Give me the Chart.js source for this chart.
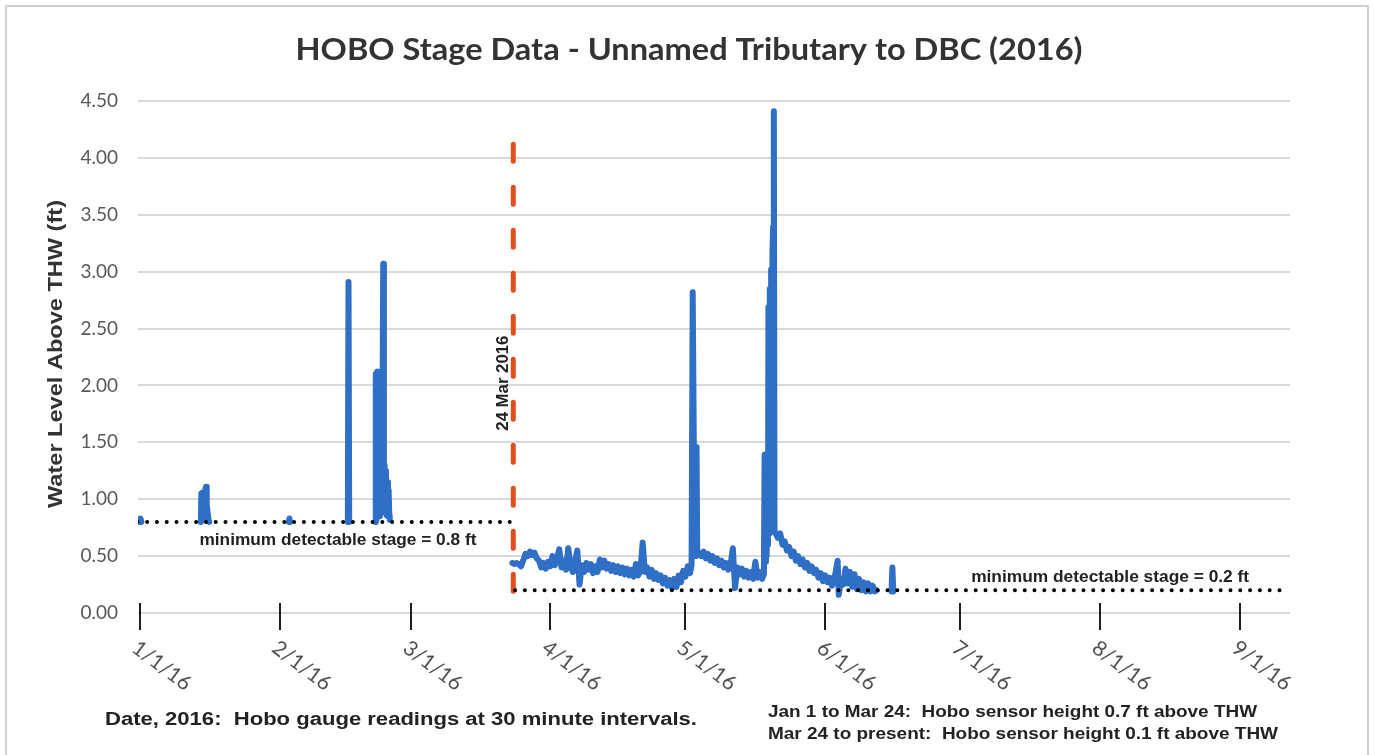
<!DOCTYPE html>
<html>
<head>
<meta charset="utf-8">
<title>HOBO Stage Data - Unnamed Tributary to DBC (2016)</title>
<script src="https://cdn.jsdelivr.net/npm/chart.js@4/dist/chart.umd.min.js"></script>
<style>
  html, body { margin: 0; padding: 0; background: #fff; overflow: hidden; }
  #wrap { position: relative; width: 1374px; height: 755px; }
</style>
</head>
<body>
<div id="wrap"><canvas id="stage" width="1374" height="755"></canvas></div>
<script>
// ---- axis content -------------------------------------------------------
// x values are days since 1 Jan 2016
const monthStartDays = [0, 31, 60, 91, 121, 152, 182, 213, 244];
const monthLabels = ['1/1/16', '2/1/16', '3/1/16', '4/1/16', '5/1/16', '6/1/16', '7/1/16', '8/1/16', '9/1/16'];
const yTickStep = 0.5;

// ---- stage readings [day, ft]; null = below detection, no line ----------
// sensor at 0.7 ft above THW (only readings above 0.8 ft register)
const earlyReadings = [
  [-0.1, 0.80], [0.1, 0.83], [0.3, 0.80], [0.35, null],
  [13.5, 0.80], [13.6, 1.05], [13.75, 0.82], [13.9, 1.06], [14.05, 0.85], [14.2, 1.04], [14.35, 0.88],
  [14.5, 1.09], [14.65, 1.11], [14.8, 0.95], [15.0, 0.88], [15.2, 0.82], [15.35, 0.80], [15.4, null],
  [33.0, 0.80], [33.15, 0.83], [33.3, 0.80], [33.35, null],
  [46.1, 0.80], [46.25, 2.91], [46.4, 0.80], [46.45, null],
  [52.2, 0.80], [52.3, 2.10], [52.45, 0.82], [52.6, 2.12], [52.75, 0.85], [52.9, 2.12], [53.05, 0.85],
  [53.2, 2.10], [53.35, 0.88], [53.5, 2.05], [53.65, 0.90], [53.8, 1.90], [53.95, 3.07], [54.1, 0.90],
  [54.25, 1.30], [54.4, 0.88], [54.55, 1.25], [54.7, 0.86], [54.85, 1.15], [55.0, 0.85], [55.15, 1.08],
  [55.3, 0.85], [55.4, 0.82], [55.5, null]
];

// sensor lowered to 0.1 ft above THW on 24 Mar
const lateReadings = [
  [82.6, 0.44], [83.0, 0.43], [83.5, 0.44], [84.0, 0.43], [84.5, 0.41], [85.0, 0.46], [85.5, 0.52],
  [86.0, 0.50], [86.5, 0.54], [87.0, 0.51], [87.5, 0.53], [88.0, 0.48], [88.5, 0.46], [89.0, 0.40],
  [89.5, 0.44], [90.0, 0.39], [90.5, 0.45], [91.0, 0.41], [91.5, 0.50], [92.0, 0.42], [92.5, 0.48],
  [93.0, 0.56], [93.5, 0.40], [94.0, 0.46], [94.5, 0.38], [95.0, 0.57], [95.5, 0.42], [96.0, 0.36],
  [96.5, 0.45], [97.0, 0.55], [97.5, 0.25], [98.0, 0.42], [98.5, 0.36], [99.0, 0.44], [99.5, 0.38],
  [100.0, 0.43], [100.5, 0.35], [101.0, 0.41], [101.5, 0.36], [102.0, 0.47], [102.5, 0.40], [103.0, 0.46],
  [103.5, 0.39], [104.0, 0.43], [104.5, 0.37], [105.0, 0.42], [105.5, 0.36], [106.0, 0.41], [106.5, 0.35],
  [107.0, 0.40], [107.5, 0.34], [108.0, 0.39], [108.5, 0.33], [109.0, 0.38], [109.5, 0.32], [110.0, 0.43],
  [110.5, 0.33], [111.0, 0.37], [111.5, 0.62], [112.0, 0.36], [112.5, 0.40], [113.0, 0.32], [113.5, 0.38],
  [114.0, 0.30], [114.5, 0.35], [115.0, 0.29], [115.5, 0.33], [116.0, 0.26], [116.5, 0.31], [117.0, 0.24],
  [117.5, 0.29], [118.0, 0.22], [118.5, 0.30], [119.0, 0.23], [119.5, 0.33], [120.0, 0.27], [120.5, 0.37],
  [121.0, 0.32], [121.5, 0.41], [122.0, 0.35], [122.35, 0.42], [122.6, 2.82], [122.85, 1.46], [123.0, 0.50],
  [123.15, 1.46], [123.3, 0.50], [123.45, 1.46], [123.6, 0.55], [124.0, 0.52], [124.5, 0.50], [125.0, 0.54],
  [125.5, 0.48], [126.0, 0.52], [126.5, 0.46], [127.0, 0.50], [127.5, 0.44], [128.0, 0.48], [128.5, 0.42],
  [129.0, 0.46], [129.5, 0.40], [130.0, 0.44], [130.5, 0.38], [131.0, 0.42], [131.5, 0.57], [132.0, 0.22],
  [132.5, 0.40], [133.0, 0.34], [133.5, 0.39], [134.0, 0.32], [134.5, 0.37], [135.0, 0.31], [135.5, 0.36],
  [136.0, 0.30], [136.5, 0.45], [137.0, 0.31], [137.5, 0.36], [138.0, 0.30], [138.4, 0.34], [138.55, 1.39],
  [138.7, 0.45], [138.85, 1.39], [139.0, 0.50], [139.15, 1.39], [139.3, 0.60], [139.4, 2.69], [139.55, 0.70],
  [139.7, 2.85], [139.85, 0.72], [140.0, 3.02], [140.15, 0.75], [140.3, 3.19], [140.45, 3.40], [140.6, 4.41],
  [140.75, 0.72], [141.0, 0.70], [141.5, 0.66], [142.0, 0.70], [142.5, 0.60], [143.0, 0.63], [143.5, 0.55],
  [144.0, 0.58], [144.5, 0.50], [145.0, 0.54], [145.5, 0.46], [146.0, 0.50], [146.5, 0.43], [147.0, 0.47],
  [147.5, 0.40], [148.0, 0.44], [148.5, 0.37], [149.0, 0.41], [149.5, 0.35], [150.0, 0.38], [150.5, 0.31],
  [151.0, 0.35], [151.5, 0.28], [152.0, 0.33], [152.5, 0.27], [153.0, 0.31], [153.5, 0.24], [154.0, 0.29],
  [154.75, 0.46], [155.0, 0.16], [155.5, 0.30], [156.0, 0.25], [156.5, 0.39], [157.0, 0.26], [157.5, 0.36],
  [158.0, 0.23], [158.5, 0.34], [159.0, 0.21], [159.5, 0.30], [160.0, 0.20], [160.5, 0.27], [161.0, 0.19],
  [161.5, 0.26], [162.0, 0.19], [162.5, 0.24], [163.0, 0.19], [163.4, 0.20], [163.5, null],
  [166.7, 0.19], [166.9, 0.40], [167.1, 0.19]
];

// minimum detectable stage: [from day, to day, ft]
const detectionFloors = [
  [-0.6, 82.2, 0.8],
  [83.2, 254.6, 0.2]
];

// sensor relocation marker: [day, top ft, bottom ft]
const sensorMove = [82.8, 4.12, 0.14];

const titleText = 'HOBO Stage Data - Unnamed Tributary to DBC (2016)';
const yTitleText = 'Water Level Above THW (ft)';
const moveLabel = '24 Mar 2016';
const floorLabels = ['minimum detectable stage = 0.8 ft', 'minimum detectable stage = 0.2 ft'];
const footLeft = 'Date, 2016:  Hobo gauge readings at 30 minute intervals.';
const footRight = [
  'Jan 1 to Mar 24:  Hobo sensor height 0.7 ft above THW',
  'Mar 24 to present:  Hobo sensor height 0.1 ft above THW'
];

// ---- helpers --------------------------------------------------------------
const toPoints = rows => rows.map(([d, ft]) => ({ x: d, y: ft }));

const BLUE = '#2f6fc6';
const RED = '#e04f1d';
const SANS = '"Liberation Sans", Arial, sans-serif';
const HUMAN = 'Lato, "Open Sans", sans-serif';

// draw text squeezed or stretched horizontally to a set run length
function fitText(ctx, text, x, y, runWidth, align) {
  const w = ctx.measureText(text).width;
  const s = runWidth / w;
  ctx.save();
  ctx.translate(x, y);
  ctx.scale(s, 1);
  ctx.textAlign = align;
  ctx.fillText(text, 0, 0);
  ctx.restore();
}

// frame, titles, month ticks and notes
const decorations = {
  id: 'decorations',
  beforeDraw(chart) {
    const { ctx, width, height } = chart;
    ctx.save();
    ctx.fillStyle = '#ffffff';
    ctx.fillRect(0, 0, width, height);
    ctx.strokeStyle = '#cfcfcf';
    ctx.lineWidth = 2;
    ctx.strokeRect(6, 6, width - 12, height + 20);
    ctx.restore();
  },
  afterDraw(chart) {
    const { ctx } = chart;
    const xs = chart.scales.x, ys = chart.scales.y;
    const y0 = ys.getPixelForValue(0);
    ctx.save();
    ctx.textBaseline = 'middle';

    // chart title
    ctx.fillStyle = '#333333';
    ctx.font = 'bold 31px ' + HUMAN;
    fitText(ctx, titleText, 689, 50, 787, 'center');

    // y axis title
    ctx.save();
    ctx.translate(56, 354);
    ctx.rotate(-Math.PI / 2);
    ctx.font = 'bold 21px ' + SANS;
    fitText(ctx, yTitleText, 0, 0, 308, 'center');
    ctx.restore();

    // month tick marks crossing the zero line, with slanted labels
    monthStartDays.forEach((d, i) => {
      const px = Math.round(xs.getPixelForValue(d));
      ctx.strokeStyle = '#1e1e1e';
      ctx.lineWidth = 2;
      ctx.beginPath();
      ctx.moveTo(px, y0 - 10);
      ctx.lineTo(px, y0 + 17);
      ctx.stroke();
      ctx.save();
      ctx.translate(px + 1, y0 + 24);
      ctx.rotate(37 * Math.PI / 180);
      ctx.font = '21px ' + HUMAN;
      ctx.fillStyle = '#505050';
      ctx.textAlign = 'left';
      ctx.textBaseline = 'top';
      ctx.fillText(monthLabels[i], 0, 0);
      ctx.restore();
    });

    // detection floor notes
    ctx.fillStyle = '#222222';
    ctx.font = 'bold 16px ' + SANS;
    fitText(ctx, floorLabels[0], xs.getPixelForValue(43.9), ys.getPixelForValue(detectionFloors[0][2]) + 19, 277, 'center');
    fitText(ctx, floorLabels[1], xs.getPixelForValue(215.2), ys.getPixelForValue(detectionFloors[1][2]) - 13, 278, 'center');

    // relocation date, written up the dashed marker
    ctx.save();
    ctx.translate(xs.getPixelForValue(sensorMove[0]) - 10, ys.getPixelForValue(2.02));
    ctx.rotate(-Math.PI / 2);
    ctx.font = 'bold 16px ' + SANS;
    fitText(ctx, moveLabel, 0, 0, 95, 'center');
    ctx.restore();

    // footnotes
    ctx.font = 'bold 18px ' + SANS;
    fitText(ctx, footLeft, 105, 720, 592, 'left');
    ctx.font = 'bold 17px ' + SANS;
    fitText(ctx, footRight[0], 768, 712, 489, 'left');
    fitText(ctx, footRight[1], 768, 734, 510, 'left');

    ctx.restore();
  }
};

new Chart(document.getElementById('stage'), {
  type: 'line',
  data: {
    datasets: [
      {
        label: 'Min. detectable 0.8 ft',
        data: toPoints([[detectionFloors[0][0], detectionFloors[0][2]], [detectionFloors[0][1], detectionFloors[0][2]]]),
        borderColor: '#000000', borderWidth: 4, borderDash: [0, 9.8], borderCapStyle: 'round',
        pointRadius: 0, order: 0
      },
      {
        label: 'Min. detectable 0.2 ft',
        data: toPoints([[detectionFloors[1][0], detectionFloors[1][2]], [detectionFloors[1][1], detectionFloors[1][2]]]),
        borderColor: '#000000', borderWidth: 4, borderDash: [0, 9.8], borderCapStyle: 'round',
        pointRadius: 0, order: 0
      },
      {
        label: 'Sensor moved',
        data: toPoints([[sensorMove[0], sensorMove[1]], [sensorMove[0], sensorMove[2]]]),
        borderColor: RED, borderWidth: 5, borderDash: [17, 26], borderCapStyle: 'round',
        pointRadius: 0, order: 1
      },
      {
        label: 'Stage',
        data: toPoints(earlyReadings.concat(lateReadings)),
        borderColor: BLUE, borderWidth: 6, borderJoinStyle: 'round', borderCapStyle: 'round',
        pointRadius: 0, tension: 0, spanGaps: false, order: 2
      }
    ]
  },
  options: {
    responsive: false,
    animation: false,
    events: [],
    layout: { padding: { top: 101, right: 84, bottom: 0, left: 0 } },
    plugins: { legend: { display: false }, title: { display: false }, tooltip: { enabled: false } },
    scales: {
      x: {
        type: 'linear',
        min: -0.45,
        max: 255.1,
        afterBuildTicks: s => { s.ticks = monthStartDays.map(v => ({ value: v })); },
        afterFit: s => { s.height = 142; },
        ticks: { display: false },
        grid: { display: false },
        border: { display: false }
      },
      y: {
        min: 0,
        max: 4.5,
        afterFit: s => { s.width = 138; },
        ticks: {
          stepSize: yTickStep,
          padding: 20,
          color: '#595959',
          font: { family: HUMAN, size: 19 },
          callback: v => Number(v).toFixed(2)
        },
        grid: { color: '#d9d9d9', lineWidth: 2, drawTicks: false },
        border: { display: false }
      }
    }
  },
  plugins: [decorations]
});
</script>
</body>
</html>
